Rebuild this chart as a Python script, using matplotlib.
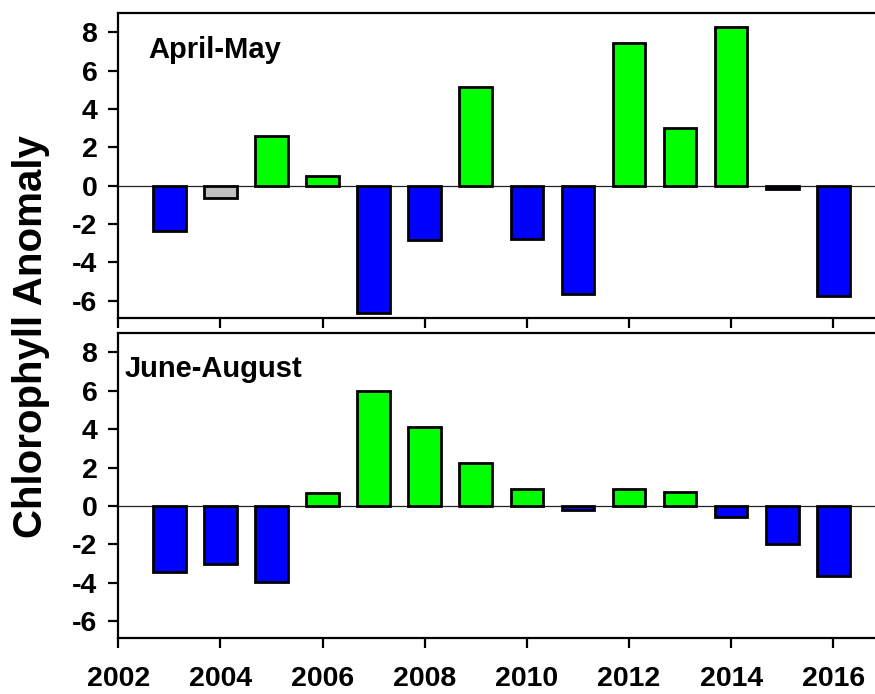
import matplotlib
matplotlib.use("Agg")
import matplotlib.pyplot as plt

plt.rcParams['font.family'] = ['Liberation Sans', 'DejaVu Sans']
plt.rcParams['font.weight'] = 'bold'
plt.rcParams['axes.unicode_minus'] = False

years = [2003, 2004, 2005, 2006, 2007, 2008, 2009, 2010, 2011, 2012, 2013, 2014, 2015, 2016]
april_may = [-2.37, -0.66, 2.59, 0.50, -6.63, -2.83, 5.13, -2.78, -5.65, 7.46, 2.99, 8.26, -0.15, -5.76]
april_may_colors = ['#0000FF', '#C0C0C0', '#00FF00', '#00FF00', '#0000FF', '#0000FF', '#00FF00',
                    '#0000FF', '#0000FF', '#00FF00', '#00FF00', '#00FF00', '#0000FF', '#0000FF']
june_aug = [-3.44, -3.03, -3.97, 0.68, 5.98, 4.12, 2.26, 0.90, -0.19, 0.87, 0.71, -0.57, -1.98, -3.67]
june_aug_colors = ['#0000FF', '#0000FF', '#0000FF', '#00FF00', '#00FF00', '#00FF00', '#00FF00',
                   '#00FF00', '#0000FF', '#00FF00', '#00FF00', '#0000FF', '#0000FF', '#0000FF']
yticks = [-6, -4, -2, 0, 2, 4, 6, 8]
xticks = [2002, 2004, 2006, 2008, 2010, 2012, 2014, 2016]
titles = ['April-May', 'June-August']

W, H = 875, 694
fig = plt.figure(figsize=(W / 100, H / 100), dpi=100)

left = 118.3 / W
width = 1.0 - left
h = 305 / H
ax1 = fig.add_axes([left, (H - 318) / H, width, h])
ax2 = fig.add_axes([left, (H - 638.3) / H, width, h])

panels = [(ax1, april_may, april_may_colors, titles[0], (148 / W, 1 - 58 / H)),
          (ax2, june_aug, june_aug_colors, titles[1], (125 / W, 1 - 377 / H))]

for i, (ax, vals, cols, title, tpos) in enumerate(panels):
    ax.bar(years, vals, width=0.64, color=cols, edgecolor='black', linewidth=2.0, zorder=3)
    ax.axhline(0, color='#222222', linewidth=0.9, zorder=2)
    ax.set_xlim(2002, 2002 + (W - 118.3) / 51.07)
    ax.set_ylim(-6.9, 9.0)
    ax.set_yticks(yticks)
    ax.set_xticks(xticks)
    ax.spines['right'].set_visible(False)
    for s in ['left', 'top', 'bottom']:
        ax.spines[s].set_linewidth(1.6)
    ax.tick_params(axis='both', direction='out', length=7, width=1.6,
                   labelsize=20.5, pad=8)
    ax.tick_params(axis='x', pad=13)
    for lab in ax.get_yticklabels() + ax.get_xticklabels():
        lab.set_fontweight('bold')
    if i == 0:
        ax.tick_params(axis='x', labelbottom=False)
    fig.text(tpos[0], tpos[1], title, fontsize=21, fontweight='bold',
             ha='left', va='baseline')

fig.text(31 / W, 1 - 337 / H, 'Chlorophyll Anomaly', rotation=90, fontsize=29,
         fontweight='bold', ha='center', va='center')

fig.savefig('out.png', dpi=100)
